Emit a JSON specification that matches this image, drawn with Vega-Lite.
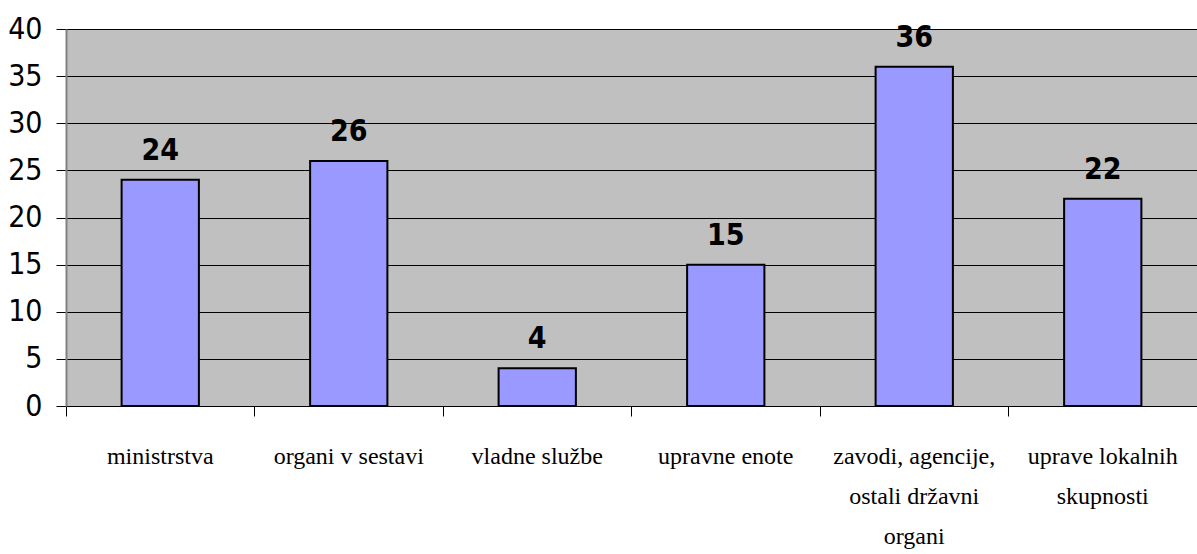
{
  "$schema": "https://vega.github.io/schema/vega-lite/v6.json",
  "autosize": "none",
  "width": 1131,
  "height": 377,
  "padding": {"left": 66, "top": 29, "right": 0, "bottom": 148},
  "background": "white",
  "config": {
    "view": {"fill": "#c0c0c0", "stroke": "#808080", "strokeWidth": 1}
  },
  "data": {
    "values": [
      {"kategorija": "ministrstva", "vrednost": 24},
      {"kategorija": "organi v sestavi", "vrednost": 26},
      {"kategorija": "vladne službe", "vrednost": 4},
      {"kategorija": "upravne enote", "vrednost": 15},
      {"kategorija": "zavodi, agencije,|ostali državni|organi", "vrednost": 36},
      {"kategorija": "uprave lokalnih|skupnosti", "vrednost": 22}
    ]
  },
  "encoding": {
    "x": {
      "field": "kategorija",
      "type": "nominal",
      "sort": null,
      "scale": {"paddingInner": 0, "paddingOuter": 0},
      "axis": {
        "title": null,
        "labelAngle": 0,
        "bandPosition": 0,
        "labelExpr": "split(datum.label, '|')",
        "labelFont": "Liberation Serif",
        "labelFontSize": 24,
        "labelColor": "black",
        "labelLineHeight": 40,
        "labelPadding": 28,
        "labelBaseline": "top",
        "tickColor": "black",
        "tickSize": 10,
        "domain": false,
        "grid": false,
        "labelLimit": 300
      }
    },
    "y": {
      "field": "vrednost",
      "type": "quantitative",
      "scale": {"domain": [0, 40], "nice": false},
      "axis": {
        "title": null,
        "values": [0, 5, 10, 15, 20, 25, 30, 35, 40],
        "labelFont": "DejaVu Sans Condensed, Liberation Sans Narrow, Arial Narrow, sans-serif",
        "labelFontSize": 30,
        "labelColor": "black",
        "labelPadding": 14,
        "tickColor": "black",
        "tickSize": 10,
        "gridColor": "black",
        "gridWidth": 1,
        "gridOpacity": 1,
        "domainColor": "#808080",
        "domainWidth": 2
      }
    }
  },
  "layer": [
    {
      "mark": {"type": "bar", "width": {"band": 0.41}, "fill": "#9999ff", "stroke": "black", "strokeWidth": 2}
    },
    {
      "mark": {"type": "text", "font": "DejaVu Sans Condensed, Liberation Sans Narrow, Arial Narrow, sans-serif", "fontWeight": "bold", "fontSize": 30, "baseline": "bottom", "dy": -14, "color": "black"},
      "encoding": {"text": {"field": "vrednost", "type": "quantitative"}}
    }
  ]
}
